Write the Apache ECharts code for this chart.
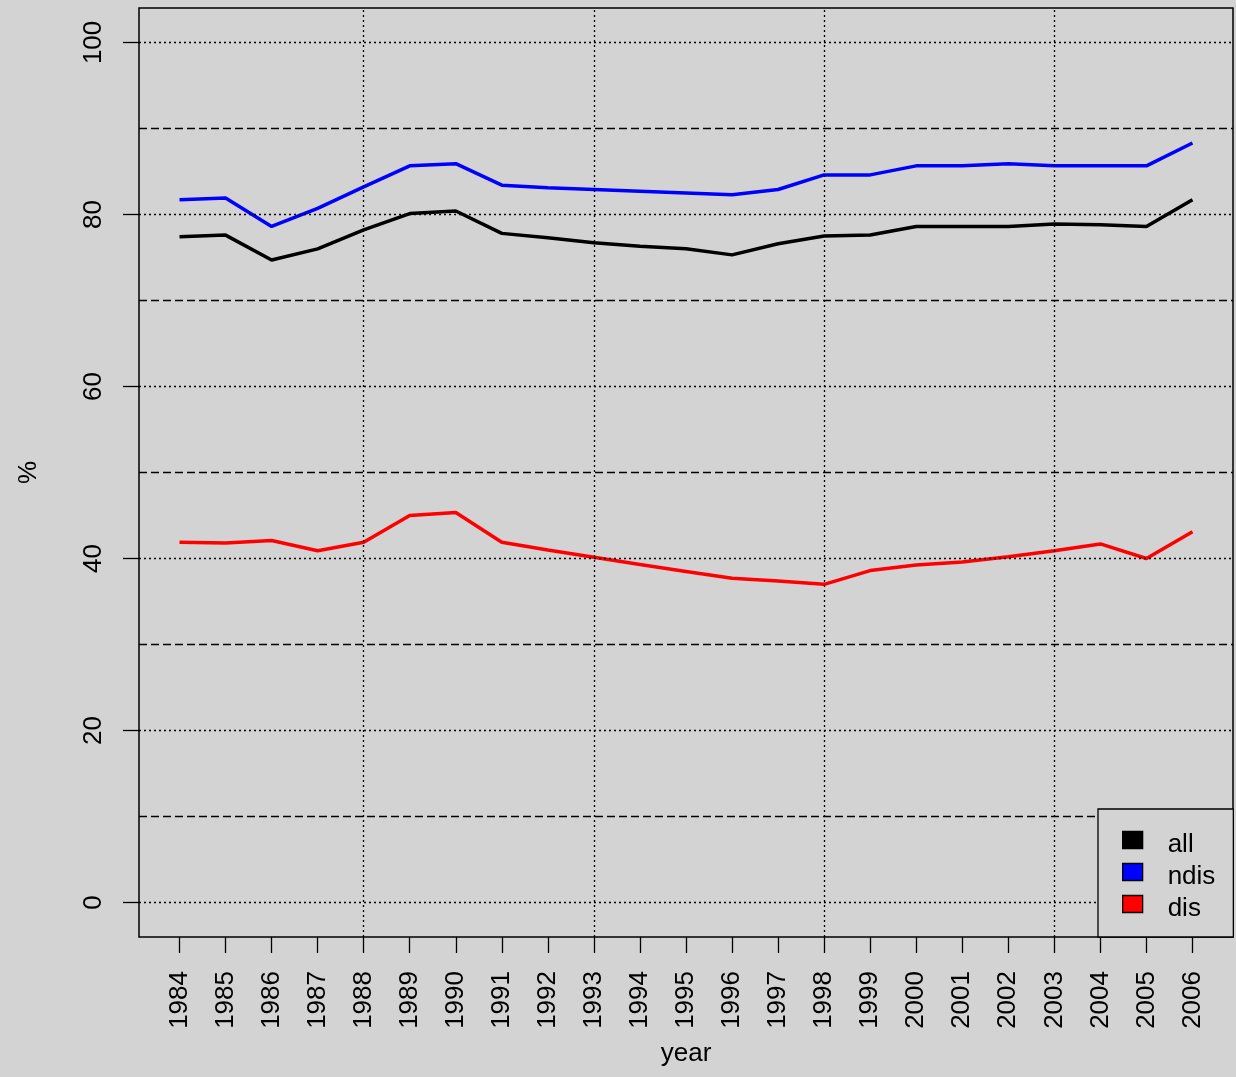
<!DOCTYPE html>
<html>
<head>
<meta charset="utf-8">
<script src="https://cdn.jsdelivr.net/npm/echarts@6/dist/echarts.min.js"></script>
<style>
  html, body { margin: 0; padding: 0; background: #d3d3d3; }
  #chart { width: 1236px; height: 1077px; }
</style>
</head>
<body>
<div id="chart"></div>
<script>
var years = [1984, 1985, 1986, 1987, 1988, 1989, 1990, 1991, 1992, 1993, 1994, 1995,
  1996, 1997, 1998, 1999, 2000, 2001, 2002, 2003, 2004, 2005, 2006];
var allVals = [77.4, 77.6, 74.7, 76.0, 78.2, 80.1, 80.4, 77.8, 77.3, 76.7, 76.3, 76.0,
  75.3, 76.6, 77.5, 77.6, 78.6, 78.6, 78.6, 78.9, 78.8, 78.6, 81.7];
var ndisVals = [81.7, 81.9, 78.6, 80.7, 83.2, 85.65, 85.9, 83.4, 83.1, 82.9, 82.7, 82.5,
  82.3, 82.9, 84.6, 84.6, 85.65, 85.65, 85.9, 85.65, 85.65, 85.65, 88.3];
var disVals = [41.9, 41.8, 42.1, 40.9, 41.9, 45.0, 45.35, 41.9, 41.0, 40.15, 39.3, 38.5,
  37.7, 37.4, 37.0, 38.6, 39.25, 39.6, 40.2, 40.9, 41.7, 40.0, 43.1];
var yTicks = [0, 20, 40, 60, 80, 100];
var hDotted = [0, 20, 40, 60, 80, 100];
var hDashed = [10, 30, 50, 70, 90];
var vDotted = [1988, 1993, 1998, 2003];

var font = 'Liberation Sans, Arial, Helvetica, sans-serif';

function pairs(vals) {
  return years.map(function (y, i) { return [y, vals[i]]; });
}

// reference lines drawn as markLines so they go through the axes' scales
function gridSeries(lines, type) {
  return {
    type: 'line',
    data: [],
    silent: true,
    z: 1,
    markLine: {
      silent: true,
      symbol: 'none',
      label: { show: false },
      lineStyle: { color: '#000', width: 1.3, type: type },
      data: lines
    }
  };
}

var chart = echarts.init(document.getElementById('chart'));

var option = {
  backgroundColor: '#d3d3d3',
  animation: false,
  textStyle: { fontFamily: font },
  grid: {
    left: 139, right: 3, top: 8, bottom: 140,
    outerBoundsMode: 'none',
    containLabel: false,
    show: true, borderColor: '#000', borderWidth: 1.5, backgroundColor: '#d3d3d3'
  },
  xAxis: {
    type: 'value',
    min: 1983.12,
    max: 2006.88,
    name: 'year',
    nameLocation: 'middle',
    nameGap: 104,
    nameTextStyle: { fontSize: 26, color: '#000', fontFamily: font },
    axisLine: { show: false, onZero: false },
    axisTick: { show: true, inside: false, customValues: years, length: 16, lineStyle: { color: '#000', width: 1.3 } },
    axisLabel: {
      customValues: years, rotate: 90, margin: 34, fontSize: 26, color: '#000', fontFamily: font,
      formatter: function (v) { return String(v); }
    },
    splitLine: { show: false }
  },
  yAxis: {
    type: 'value',
    min: -4,
    max: 104,
    name: '%',
    nameLocation: 'middle',
    nameGap: 97,
    nameRotate: 90,
    nameTextStyle: { fontSize: 26, color: '#000', fontFamily: font },
    axisLine: { show: false, onZero: false },
    axisTick: { show: true, inside: false, customValues: yTicks, length: 16, lineStyle: { color: '#000', width: 1.3 } },
    axisLabel: { customValues: yTicks, rotate: 90, margin: 32, fontSize: 26, color: '#000', fontFamily: font },
    splitLine: { show: false }
  },
  legend: {
    data: ['all', 'ndis', 'dis'],
    orient: 'vertical',
    left: 1098,
    top: 809,
    padding: [13, 18, 15, 24],
    itemWidth: 20,
    itemHeight: 17,
    itemGap: -4,
    icon: 'rect',
    borderColor: '#000',
    borderWidth: 1.3,
    borderRadius: 0,
    backgroundColor: '#d3d3d3',
    itemStyle: { borderColor: '#000', borderWidth: 1.3 },
    // small empty first line pushes the name a bit below the key box, as in R
    formatter: function (name) { return '{s|}\n{t|' + name + '}'; },
    textStyle: {
      fontSize: 26, color: '#000', fontFamily: font, padding: [0, 0, 0, 20],
      rich: {
        s: { height: 10, lineHeight: 10, fontSize: 1 },
        t: { fontSize: 26, lineHeight: 26, color: '#000', fontFamily: font }
      }
    },
    z: 10
  },
  series: [
    gridSeries(hDotted.map(function (v) { return { yAxis: v }; }), [2, 3]),
    gridSeries(hDashed.map(function (v) { return { yAxis: v }; }), [8, 4]),
    gridSeries(vDotted.map(function (v) { return { xAxis: v }; }), [2, 3]),
    {
      name: 'all', type: 'line', data: pairs(allVals), showSymbol: false, z: 3,
      color: '#000', lineStyle: { color: '#000', width: 3.5 }
    },
    {
      name: 'ndis', type: 'line', data: pairs(ndisVals), showSymbol: false, z: 3,
      color: '#0000ff', lineStyle: { color: '#0000ff', width: 3.5 }
    },
    {
      name: 'dis', type: 'line', data: pairs(disVals), showSymbol: false, z: 3,
      color: '#ff0000', lineStyle: { color: '#ff0000', width: 3.5 }
    }
  ]
};

chart.setOption(option);
</script>
</body>
</html>
